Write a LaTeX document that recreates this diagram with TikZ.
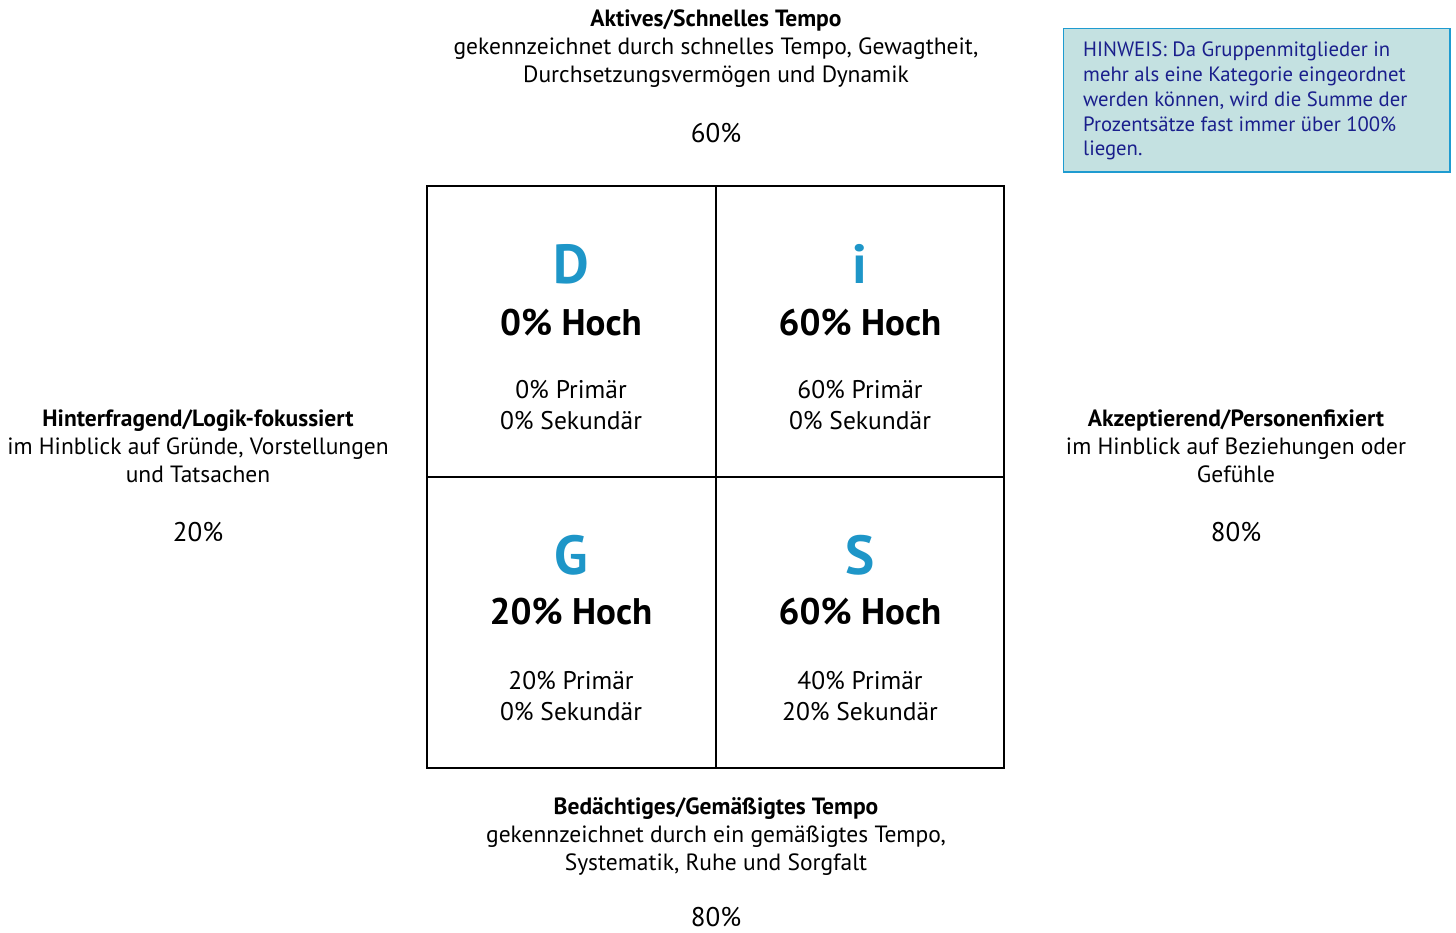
\documentclass[tikz,border=0pt]{standalone}
\usepackage{fontspec}
\setmainfont{PT Sans}
\usepackage{xcolor}
\definecolor{discblue}{HTML}{1E96C8}
\definecolor{notefill}{HTML}{C4E1E1}
\definecolor{noteline}{HTML}{1E9BD0}
\definecolor{notetext}{HTML}{1A1F8C}
\tikzset{
  desc/.style={align=center,inner sep=0pt,font=\fontsize{23.5}{28}\selectfont},
  pct/.style={inner sep=0pt,font=\fontsize{27}{28}\selectfont},
  letter/.style={inner sep=0pt,text=discblue,font=\fontsize{55}{55}\selectfont\bfseries},
  high/.style={inner sep=0pt,font=\fontsize{37}{37}\selectfont\bfseries},
  share/.style={align=center,inner sep=0pt,font=\fontsize{25.5}{31}\selectfont},
}

\begin{document}
\begin{tikzpicture}[x=1pt,y=-1pt]
\useasboundingbox (0,0) rectangle (1456,932);
% Axis texts
\node[desc] (top) at (716,49) {\textbf{Aktives/Schnelles Tempo}\\gekennzeichnet durch schnelles Tempo, Gewagtheit,\\Durchsetzungsverm\"ogen und Dynamik};
\node[pct] (toppct) at (716,133) {60\%};
\node[desc] (left) at (198,446) {\textbf{Hinterfragend/Logik-fokussiert}\\im Hinblick auf Gr\"unde, Vorstellungen\\und Tatsachen};
\node[pct] (leftpct) at (198,532) {20\%};
\node[desc] (right) at (1236,446) {\textbf{Akzeptierend/Personenfixiert}\\im Hinblick auf Beziehungen oder\\Gef\"uhle};
\node[pct] (rightpct) at (1236,532) {80\%};
\node[desc] (bottom) at (716,837) {\textbf{Bed\"achtiges/Gem\"a\ss igtes Tempo}\\gekennzeichnet durch ein gem\"a\ss igtes Tempo,\\Systematik, Ruhe und Sorgfalt};
\node[pct] (bottompct) at (716,917) {80\%};
% Note
\draw[draw=noteline,fill=notefill,line width=1.5pt] (1063.5,28.5) rectangle (1450,172);
\node[align=left,anchor=north west,inner sep=0pt,text=notetext,font=\fontsize{20.7}{24.75}\selectfont] (note) at (1083,42)
  {HINWEIS: Da Gruppenmitglieder in\\mehr als eine Kategorie eingeordnet\\werden k\"onnen, wird die Summe der\\Prozents\"atze fast immer \"uber 100\%\\liegen.};
% Grid
\draw[line width=2pt] (427,186) rectangle (1004,768);
\draw[line width=2pt] (716,186) -- (716,768);
\draw[line width=2pt] (427,477) -- (1004,477);
% D
\node[letter] (dlet) at (571,264) {D};
\node[high] (dhigh) at (571,323) {0\% Hoch};
\node[share] (dshare) at (571,405.5) {0\% Prim\"ar\\0\% Sekund\"ar};
% i
\node[letter] (ilet) at (860,264) {i};
\node[high] (ihigh) at (860,323) {60\% Hoch};
\node[share] (ishare) at (860,405.5) {60\% Prim\"ar\\0\% Sekund\"ar};
% G
\node[letter] (glet) at (571,555) {G};
\node[high] (ghigh) at (571,612) {20\% Hoch};
\node[share] (gshare) at (571,696.5) {20\% Prim\"ar\\0\% Sekund\"ar};
% S
\node[letter] (slet) at (860,555) {S};
\node[high] (shigh) at (860,612) {60\% Hoch};
\node[share] (sshare) at (860,696.5) {40\% Prim\"ar\\20\% Sekund\"ar};
\end{tikzpicture}
\end{document}
